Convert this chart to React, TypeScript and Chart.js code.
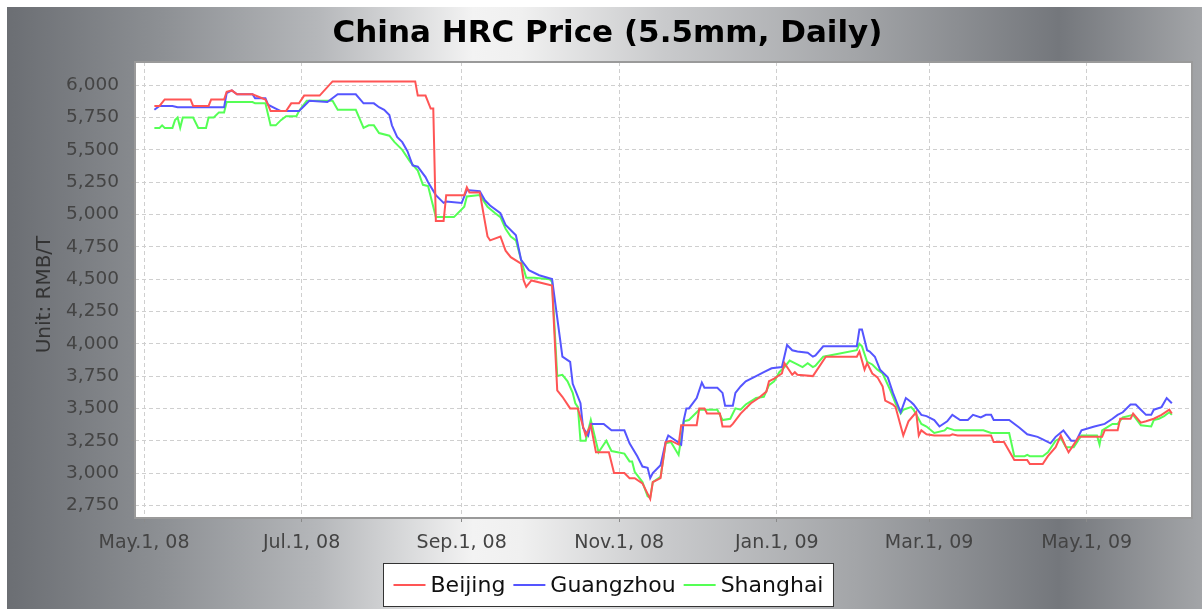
import { useEffect, useRef } from "react";
import { Chart, registerables } from "chart.js";

Chart.register(...registerables);

// ---- data (x = days since May 1, 2008) ----
const chartTitle = "China HRC Price (5.5mm, Daily)";
const yAxisTitle = "Unit: RMB/T";
const seriesNames = ["Beijing", "Guangzhou", "Shanghai"];
const seriesColors = ["#ff5555", "#5555ff", "#55ff55"];

const xTickDays = [0, 61, 123, 184, 245, 304, 365];
const xTickLabels = ["May.1, 08", "Jul.1, 08", "Sep.1, 08", "Nov.1, 08", "Jan.1, 09", "Mar.1, 09", "May.1, 09"];
const yTickValues = [2750, 3000, 3250, 3500, 3750, 4000, 4250, 4500, 4750, 5000, 5250, 5500, 5750, 6000];

const beijingDays = [4, 6, 8, 18, 19, 25, 26, 31, 32, 34, 36, 42, 47, 48, 49, 55, 57, 60, 62, 68, 73, 105, 106, 109, 111, 112, 113, 116, 117, 124, 125, 126, 130, 133, 134, 138, 140, 142, 146, 147, 148, 150, 158, 160, 162, 165, 168, 171, 173, 175, 180, 182, 186, 188, 190, 193, 196, 197, 200, 202, 204, 207, 208, 214, 215, 217, 218, 223, 224, 227, 228, 231, 235, 238, 241, 242, 244, 247, 248, 251, 252, 253, 259, 264, 276, 277, 279, 280, 282, 284, 286, 287, 290, 291, 294, 296, 299, 300, 301, 303, 306, 312, 313, 315, 328, 329, 333, 337, 342, 343, 348, 350, 353, 355, 357, 358, 360, 362, 371, 372, 377, 378, 382, 383, 386, 388, 391, 394, 397, 398];
const beijingPrices = [5840, 5840, 5890, 5890, 5840, 5840, 5890, 5890, 5950, 5960, 5930, 5930, 5890, 5850, 5800, 5800, 5860, 5860, 5920, 5920, 6030, 6030, 5920, 5920, 5820, 5820, 4950, 4950, 5150, 5150, 5210, 5170, 5170, 4830, 4800, 4830, 4720, 4670, 4620, 4490, 4440, 4490, 4450, 3640, 3590, 3500, 3500, 3290, 3370, 3160, 3160, 3000, 3000, 2960, 2960, 2920, 2800, 2930, 2960, 3240, 3250, 3220, 3370, 3370, 3500, 3500, 3460, 3460, 3360, 3360, 3380, 3460, 3540, 3580, 3630, 3710, 3730, 3770, 3850, 3760, 3780, 3760, 3750, 3900, 3900, 3940, 3800, 3850, 3770, 3740, 3670, 3560, 3530, 3510, 3290, 3400, 3470, 3290, 3330, 3300, 3290, 3290, 3300, 3290, 3290, 3240, 3240, 3100, 3100, 3070, 3070, 3130, 3200, 3290, 3200, 3160, 3220, 3280, 3280, 3330, 3330, 3420, 3420, 3460, 3390, 3400, 3420, 3450, 3490, 3460];

const guangzhouDays = [4, 6, 11, 13, 31, 32, 34, 36, 42, 43, 47, 48, 51, 53, 60, 62, 64, 71, 75, 82, 85, 89, 91, 93, 95, 96, 98, 100, 102, 104, 106, 109, 110, 113, 116, 117, 123, 125, 130, 132, 134, 138, 140, 144, 146, 149, 153, 158, 162, 165, 166, 169, 170, 172, 173, 178, 181, 186, 188, 191, 193, 195, 196, 197, 200, 202, 203, 206, 208, 209, 210, 211, 214, 216, 217, 222, 224, 225, 228, 229, 231, 233, 237, 240, 243, 247, 249, 251, 253, 257, 259, 260, 263, 276, 277, 278, 280, 281, 283, 285, 288, 290, 293, 295, 297, 298, 301, 303, 306, 308, 311, 313, 316, 319, 321, 324, 326, 328, 329, 335, 339, 342, 346, 348, 351, 353, 356, 359, 361, 363, 368, 372, 375, 377, 379, 382, 384, 386, 388, 390, 391, 394, 396, 398];
const guangzhouPrices = [5810, 5840, 5840, 5830, 5830, 5940, 5960, 5930, 5930, 5900, 5900, 5850, 5820, 5800, 5800, 5840, 5880, 5870, 5930, 5930, 5860, 5860, 5830, 5810, 5770, 5690, 5600, 5560, 5490, 5380, 5370, 5290, 5250, 5150, 5090, 5100, 5090, 5190, 5180, 5110, 5070, 5010, 4920, 4840, 4650, 4570, 4530, 4500, 3900, 3860, 3690, 3540, 3350, 3290, 3380, 3380, 3330, 3330, 3230, 3130, 3050, 3040, 2960, 3000, 3060, 3240, 3290, 3250, 3220, 3410, 3500, 3500, 3580, 3700, 3660, 3660, 3620, 3520, 3520, 3620, 3670, 3710, 3750, 3780, 3810, 3820, 3990, 3950, 3940, 3930, 3900, 3910, 3980, 3980, 4110, 4110, 3950, 3940, 3900, 3800, 3740, 3620, 3470, 3580, 3550, 3530, 3450, 3440, 3410, 3360, 3400, 3450, 3410, 3410, 3450, 3430, 3450, 3450, 3410, 3410, 3350, 3300, 3280, 3260, 3230, 3280, 3330, 3250, 3250, 3330, 3360, 3380, 3420, 3450, 3470, 3530, 3530, 3490, 3450, 3450, 3490, 3510, 3580, 3540];

const shanghaiDays = [4, 6, 7, 8, 11, 12, 13, 14, 15, 19, 21, 24, 25, 27, 29, 31, 32, 42, 43, 47, 49, 51, 53, 55, 59, 60, 63, 73, 75, 82, 85, 87, 89, 91, 95, 97, 100, 103, 106, 108, 110, 111, 113, 120, 124, 125, 130, 133, 136, 138, 140, 142, 144, 146, 148, 151, 157, 158, 160, 162, 164, 166, 167, 168, 169, 171, 173, 176, 179, 181, 186, 188, 189, 190, 193, 195, 196, 197, 200, 202, 204, 207, 209, 211, 215, 222, 224, 227, 229, 231, 233, 237, 240, 242, 244, 246, 248, 250, 252, 255, 257, 259, 260, 263, 276, 277, 278, 280, 282, 284, 286, 289, 291, 293, 294, 297, 298, 301, 303, 306, 310, 311, 314, 325, 328, 335, 337, 341, 342, 343, 348, 350, 353, 355, 357, 360, 363, 369, 370, 371, 375, 377, 379, 381, 383, 386, 390, 391, 393, 395, 397, 398];
const shanghaiPrices = [5670, 5670, 5690, 5670, 5670, 5730, 5750, 5670, 5750, 5750, 5670, 5670, 5750, 5750, 5790, 5790, 5870, 5870, 5860, 5860, 5690, 5690, 5730, 5760, 5760, 5800, 5880, 5880, 5810, 5810, 5670, 5690, 5690, 5630, 5610, 5560, 5500, 5410, 5340, 5230, 5220, 5140, 4980, 4980, 5060, 5140, 5150, 5060, 5010, 4980, 4890, 4830, 4800, 4650, 4510, 4510, 4500, 4480, 3750, 3760, 3710, 3620, 3540, 3510, 3250, 3250, 3410, 3160, 3250, 3170, 3150, 3090, 3090, 3010, 2930, 2820, 2810, 2930, 2970, 3230, 3240, 3140, 3400, 3410, 3490, 3490, 3410, 3420, 3500, 3490, 3530, 3580, 3590, 3680, 3710, 3780, 3820, 3870, 3850, 3820, 3850, 3820, 3830, 3900, 3950, 4000, 3980, 3860, 3840, 3800, 3770, 3640, 3540, 3460, 3490, 3510, 3490, 3380, 3360, 3310, 3330, 3350, 3330, 3330, 3310, 3310, 3130, 3130, 3140, 3130, 3130, 3160, 3250, 3270, 3200, 3200, 3290, 3290, 3220, 3330, 3380, 3380, 3430, 3440, 3450, 3370, 3360, 3410, 3420, 3440, 3470, 3450];

const seriesDays = [beijingDays, guangzhouDays, shanghaiDays];
const seriesPrices = [beijingPrices, guangzhouPrices, shanghaiPrices];

// ---- layout ----
const W = 1195;
const H = 602;
const FONT = "'DejaVu Sans', sans-serif";

const decorPlugin = {
  id: "decor",
  beforeDraw(chart: any) {
    const { ctx, chartArea: a } = chart;
    ctx.save();
    const g = ctx.createLinearGradient(0, 0, W, 0);
    g.addColorStop(0.0, "#6b6e73");
    g.addColorStop(0.13, "#8d9094");
    g.addColorStop(0.26, "#b5b7ba");
    g.addColorStop(0.39, "#f3f3f3");
    g.addColorStop(0.43, "#f0f0f0");
    g.addColorStop(0.55, "#c9cacc");
    g.addColorStop(0.71, "#a3a5a8");
    g.addColorStop(0.88, "#74777c");
    g.addColorStop(1.0, "#a3a5a8");
    ctx.fillStyle = g;
    ctx.fillRect(0, 0, W, H);
    ctx.fillStyle = "#ffffff";
    ctx.fillRect(a.left, a.top, a.right - a.left, a.bottom - a.top);
    ctx.restore();
  },
  afterDraw(chart: any) {
    const { ctx, chartArea: a } = chart;
    ctx.save();
    // plot outline
    ctx.strokeStyle = "#9a9a9a";
    ctx.lineWidth = 2;
    ctx.strokeRect(a.left, a.top, a.right - a.left, a.bottom - a.top);

    // title
    ctx.fillStyle = "#000";
    ctx.font = `bold 31px ${FONT}`;
    ctx.textAlign = "center";
    ctx.textBaseline = "middle";
    ctx.fillText(chartTitle, 600.5, 27);

    // y axis title
    ctx.save();
    ctx.translate(38, 287.5);
    ctx.rotate(-Math.PI / 2);
    ctx.font = `20px ${FONT}`;
    ctx.fillStyle = "#333";
    ctx.fillText(yAxisTitle, 0, 0);
    ctx.restore();

    // legend
    ctx.font = `22px ${FONT}`;
    const lineLen = 32, gapText = 5, gapItem = 8, pad = 10;
    const widths = seriesNames.map((n) => ctx.measureText(n).width);
    const total = widths.reduce((s, w) => s + lineLen + gapText + w, 0) + gapItem * (seriesNames.length - 1);
    const boxW = total + pad * 2;
    const cx = 601;
    const boxL = Math.round(cx - boxW / 2) + 0.5;
    const boxT = 556.5, boxH = 43;
    ctx.fillStyle = "#fff";
    ctx.fillRect(boxL, boxT, boxW, boxH);
    ctx.strokeStyle = "#333";
    ctx.lineWidth = 1;
    ctx.strokeRect(boxL, boxT, boxW, boxH);
    let x = boxL + pad;
    const ym = boxT + boxH / 2;
    ctx.textAlign = "left";
    seriesNames.forEach((n, i) => {
      ctx.strokeStyle = seriesColors[i];
      ctx.lineWidth = 2;
      ctx.beginPath();
      ctx.moveTo(x, ym);
      ctx.lineTo(x + lineLen, ym);
      ctx.stroke();
      x += lineLen + gapText;
      ctx.fillStyle = "#111";
      ctx.fillText(n, x, ym + 1);
      x += widths[i] + gapItem;
    });
    ctx.restore();
  },
};

export default function App() {
  const ref = useRef<HTMLCanvasElement | null>(null);

  useEffect(() => {
    if (!ref.current) return;
    const datasets = seriesNames.map((name, i) => ({
      label: name,
      data: seriesDays[i].map((d, j) => ({ x: d, y: seriesPrices[i][j] })),
      borderColor: seriesColors[i],
      backgroundColor: seriesColors[i],
      borderWidth: 2,
      pointRadius: 0,
      tension: 0,
      fill: false,
    }));

    const chart = new Chart(ref.current, {
      type: "line",
      data: { datasets },
      plugins: [decorPlugin],
      options: {
        animation: false,
        responsive: false,
        devicePixelRatio: 1,
        parsing: false as any,
        layout: { padding: { top: 55, right: 10, bottom: 51, left: 0 } },
        plugins: {
          legend: { display: false },
          title: { display: false },
          tooltip: { enabled: false },
        },
        scales: {
          x: {
            type: "linear",
            min: -3.5,
            max: 405.8,
            afterBuildTicks: (s: any) => {
              s.ticks = xTickDays.map((v) => ({ value: v }));
            },
            afterFit: (s: any) => {
              s.height = 40;
            },
            ticks: {
              autoSkip: false,
              maxRotation: 0,
              padding: 10,
              color: "#444",
              font: { family: FONT, size: 19 },
              callback: (_v: any, i: number) => xTickLabels[i],
            },
            grid: {
              color: "#cfcfcf",
              lineWidth: 1,
              drawTicks: true,
              tickLength: 4,
              tickColor: "#8a8a8a",
            },
            border: { display: false, dash: [4, 3] },
          },
          y: {
            type: "linear",
            min: 2652,
            max: 6180,
            afterBuildTicks: (s: any) => {
              s.ticks = yTickValues.map((v) => ({ value: v }));
            },
            afterFit: (s: any) => {
              s.width = 128;
            },
            ticks: {
              padding: 12,
              color: "#444",
              font: { family: FONT, size: 18.5 },
              callback: (v: any) => Number(v).toLocaleString("en-US"),
            },
            grid: {
              color: "#cfcfcf",
              lineWidth: 1,
              drawTicks: true,
              tickLength: 4,
              tickColor: "#8a8a8a",
            },
            border: { display: false, dash: [4, 3] },
          },
        },
      },
    });
    return () => chart.destroy();
  }, []);

  return (
    <div style={{ position: "fixed", left: 7, top: 7, width: W, height: H }}>
      <canvas ref={ref} width={W} height={H} style={{ width: W, height: H, display: "block" }} />
    </div>
  );
}
